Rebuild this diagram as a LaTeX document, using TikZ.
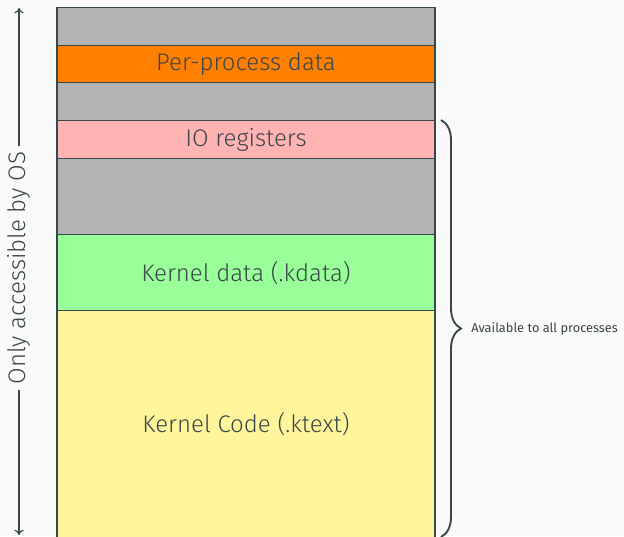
\documentclass[tikz,border=0pt]{standalone}
\usepackage{fontspec}
\setmainfont{Fira Sans}[UprightFont=* Light]
\newfontfamily\firaregular{Fira Sans}
\usetikzlibrary{decorations.pathreplacing,arrows.meta}
\definecolor{bgc}{HTML}{FAFAFA}
\definecolor{ink}{HTML}{3A4649}
\definecolor{edge}{HTML}{37474A}
\definecolor{segGray}{HTML}{B3B3B3}
\definecolor{segOrange}{HTML}{FF7F00}
\definecolor{segPink}{HTML}{FFB3B3}
\definecolor{segGreen}{HTML}{99FF99}
\definecolor{segYellow}{HTML}{FFF59A}
\begin{document}
\begin{tikzpicture}[x=0.75pt,y=-0.75pt,
  bigtext/.style={font=\fontsize{18}{21}\selectfont},
  seg/.style={draw=edge,line width=1pt,minimum width=283.5pt,inner sep=0pt,
    text=ink,bigtext},
  note/.style={text=ink,inner sep=1pt}]
\fill[bgc] (0,0) rectangle (624,536);
\useasboundingbox (0,0) rectangle (624,536);
% memory map, top to bottom
\node[seg,fill=segYellow,minimum height=176.25pt,anchor=north] (ktext) at (246,310) {};
\node[bigtext,text=ink] (ktextlbl) at (246,424) {Kernel Code (.ktext)};
\node[seg,fill=segGreen,minimum height=57pt,anchor=north] (kdata) at (246,234) {Kernel data (.kdata)};
\node[seg,fill=segGray,minimum height=57pt,anchor=north] (gapc) at (246,158) {};
\node[seg,fill=segPink,minimum height=28.5pt,anchor=north] (io) at (246,120) {IO registers};
\node[seg,fill=segGray,minimum height=28.5pt,anchor=north] (gapb) at (246,82) {};
\node[seg,fill=segOrange,minimum height=27.75pt,anchor=north] (pp) at (246,45) {Per-process data};
\node[seg,fill=segGray,minimum height=28.5pt,anchor=north] (gapa) at (246,7) {};
% OS-only range on the left
\coordinate (ostop) at (19,8);
\coordinate (osbot) at (19,535);
\node[note,rotate=90,bigtext,inner sep=4pt] (oslbl) at (19,268) {Only accessible by OS};
\draw[edge,line width=0.9pt,-{To[length=4pt,width=7pt]}] (oslbl.east) -- (ostop);
\draw[edge,line width=0.9pt,-{To[length=4pt,width=7pt]}] (oslbl.west) -- (osbot);
% brace over the shared region
\coordinate (brtop) at (441,120);
\coordinate (brbot) at (441,537);
\draw[edge,line width=1.4pt,decorate,decoration={brace,amplitude=15pt}] (brtop) -- (brbot) coordinate[midway,xshift=21.5pt] (brtip);
\node[note,anchor=west,font=\firaregular\fontsize{9.6}{12}\selectfont] (shared) at (brtip) {Available to all processes};
\end{tikzpicture}
\end{document}
